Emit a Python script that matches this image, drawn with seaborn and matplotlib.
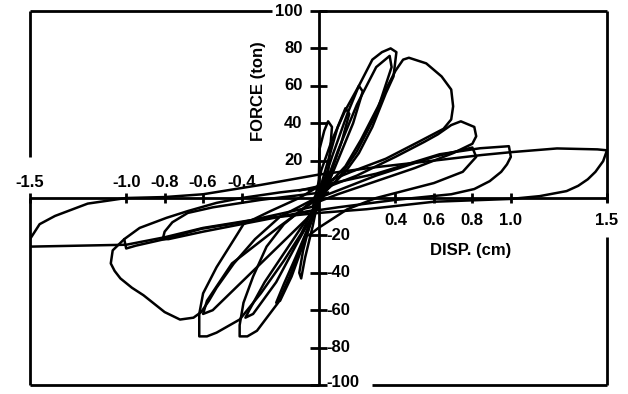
import matplotlib
matplotlib.use("Agg")
import matplotlib.pyplot as plt
import pandas as pd
import seaborn as sns

# ---------------- tick labels ----------------
x_ticks_neg = [-1.5, -1.0, -0.8, -0.6, -0.4]
x_ticks_pos = [0.4, 0.6, 0.8, 1.0, 1.5]
y_ticks_pos = [100, 80, 60, 40, 20]
y_ticks_neg = [-20, -40, -60, -80, -100]

# ---------------- hysteresis loops (disp cm, force ton) ----------------
big15_d = [-1.5, -1.5, -1.45, -1.37, -1.2, -1.0, -0.8, -0.6, -0.3, 0.0, 0.3, 0.6, 0.85, 1.0, 1.24, 1.45,
           1.5, 1.48, 1.44, 1.4, 1.35, 1.29, 1.15, 1.0, 0.6, 0.25, 0.0, -0.3, -0.6, -0.8, -1.0, -1.25, -1.5]
big15_f = [-26, -22, -14, -9.6, -3, 0, 0.5, 2, 7, 12.5, 16.5, 20, 23, 24.5, 26.5, 26,
           25.5, 19.7, 14, 10, 6.5, 3.7, 1, -0.5, -2, -6, -8, -11, -16, -21, -25, -25.5, -26]

e10_d = [-0.1, 0.3, 0.63, 0.84, 0.99, 1.0, 0.98, 0.95, 0.89, 0.81, 0.69, 0.4, 0.1, -0.1]
e10_f = [4, 13, 23.4, 26.6, 27.7, 22, 18, 14, 9, 4.8, 2, -1, -5, -8]

blob_d = [0.05, -0.2, -0.4, -0.53, -0.68, -0.79, -0.93, -1.01, -1.07, -1.08, -1.06, -1.03, -0.97, -0.91,
          -0.8, -0.72, -0.65, -0.61, -0.57, -0.53, -0.44, -0.33, -0.2, -0.05, 0.05]
blob_f = [6, 3, 0, -2.6, -7, -10.6, -16, -22, -28, -35, -39, -43, -48, -52,
          -61, -65, -64, -61, -55, -48, -35, -22, -10, -2, 3]

corner_d = [0.0, -0.09, -0.4, -0.61, -0.8, -0.95, -1.0, -1.01]
corner_f = [-4, -6, -13, -16.5, -22, -25.5, -27, -22]

n08_d = [0.02, -0.3, -0.55, -0.68, -0.76, -0.8, -0.81, -0.78, -0.6, -0.4, -0.2, 0.0]
n08_f = [3, -1, -5, -8, -13, -18, -22, -22, -18, -14, -10, -6]

spike_p_d = [0.0, 0.005, 0.03, 0.05, 0.07, 0.06, 0.05, 0.02, 0.0]
spike_p_f = [0, 26, 36, 41, 38, 25, 14, 3, 0]

p14_d = [-0.02, 0.05, 0.1, 0.14, 0.16, 0.12, 0.06, 0.0]
p14_f = [-5, 20, 38, 48, 45, 30, 12, -2]

p21_d = [-0.02, 0.07, 0.15, 0.21, 0.23, 0.18, 0.1, 0.02]
p21_f = [-6, 22, 45, 60, 57, 40, 20, 0]

p38_d = [-0.03, 0.015, 0.07, 0.14, 0.21, 0.28, 0.33, 0.375, 0.405, 0.39, 0.35, 0.28, 0.21, 0.14, 0.05, 0.0]
p38_f = [-5, 15, 31, 47, 60, 74, 78, 80, 78, 65, 56, 38, 24, 14, 5, 0]

p37_d = [0.0, 0.1, 0.2, 0.3, 0.37, 0.38, 0.3, 0.2, 0.1, 0.0]
p37_f = [-3, 25, 50, 70, 76, 70, 45, 25, 10, 0]

c70_d = [0.0, 0.04, 0.14, 0.22, 0.31, 0.36, 0.4, 0.44, 0.47, 0.56, 0.64, 0.69, 0.70, 0.69, 0.65, 0.52, 0.35, 0.17, 0.04, -0.05]
c70_f = [-2, 6, 17, 31, 49, 60, 68, 74, 75, 72, 65, 58, 49, 42, 37, 30, 21, 14, 8.5, 4]

d80_d = [0.0, 0.2, 0.4, 0.55, 0.62, 0.69, 0.74, 0.81, 0.82, 0.8, 0.7, 0.5, 0.3, 0.1, 0.0]
d80_f = [4, 12, 22, 30, 34, 39, 41, 38, 33, 29, 24, 16, 9, 2, -2]

d82_d = [0.0, 0.3, 0.6, 0.8, 0.82, 0.75, 0.6, 0.3, 0.15, 0.0, -0.05]
d82_f = [0, 12, 22, 27, 22, 14, 8, 0, -6, -16, -20]

spike_n_d = [0.0, -0.03, -0.07, -0.09, -0.1, -0.08, -0.04, 0.0]
spike_n_f = [0, -15, -32, -43, -40, -28, -12, 0]

n22_d = [0.0, -0.05, -0.12, -0.18, -0.22, -0.2, -0.14, -0.08, -0.02, 0.02]
n22_f = [0, -15, -32, -46, -56, -55, -42, -25, -8, 2]

n41_d = [0.02, -0.05, -0.18, -0.27, -0.34, -0.39, -0.41, -0.41, -0.37, -0.32, -0.21, -0.15, -0.09, -0.04, 0.0]
n41_f = [5, -3, -14, -26, -42, -56, -68, -74, -74, -71, -56, -42, -26, -12, -2]

n38_d = [0.0, -0.15, -0.28, -0.36, -0.38, -0.34, -0.22, -0.1, 0.0]
n38_f = [-2, -25, -45, -60, -64, -62, -45, -22, -4]

n62_d = [0.03, -0.1, -0.25, -0.39, -0.42, -0.53, -0.6, -0.62, -0.62, -0.58, -0.53, -0.41, -0.3, -0.18, -0.09, -0.04, 0.0]
n62_f = [8, 0, -7, -14, -19, -37, -51, -62, -74, -74, -72, -65, -51, -33.5, -19, -8.5, 0]

n60_d = [0.0, -0.2, -0.45, -0.58, -0.6, -0.55, -0.4, -0.2, 0.0]
n60_f = [0, -15, -35, -55, -62, -60, -45, -25, -5]

loops = {
    "big15": (big15_d, big15_f), "e10": (e10_d, e10_f), "blob": (blob_d, blob_f),
    "corner": (corner_d, corner_f), "n08": (n08_d, n08_f), "spike_p": (spike_p_d, spike_p_f),
    "p14": (p14_d, p14_f), "p21": (p21_d, p21_f), "p38": (p38_d, p38_f), "p37": (p37_d, p37_f),
    "c70": (c70_d, c70_f), "d80": (d80_d, d80_f), "d82": (d82_d, d82_f),
    "spike_n": (spike_n_d, spike_n_f), "n22": (n22_d, n22_f), "n41": (n41_d, n41_f),
    "n38": (n38_d, n38_f), "n62": (n62_d, n62_f), "n60": (n60_d, n60_f),
}
rows = []
for name, (ds, fs_) in loops.items():
    for i, (d, f) in enumerate(zip(ds, fs_)):
        rows.append({"loop": name, "order": i, "disp": d, "force": f})
df = pd.DataFrame(rows)

# ---------------- drawing ----------------
sns.set_theme(style="white")
plt.rcParams['font.family'] = ['Liberation Sans', 'DejaVu Sans']

fig = plt.figure(figsize=(6.28, 3.94), dpi=100)
ax = fig.add_axes([30 / 628, 9 / 394, 577 / 628, 374 / 394])
ax.set_xlim(-1.5, 1.5)
ax.set_ylim(-100, 100)
ax.axis('off')

sns.lineplot(data=df, x="disp", y="force", units="loop", estimator=None, sort=False,
             color="black", lw=1.8, ax=ax, legend=False)
for l in ax.lines:
    l.set_solid_joinstyle("round")
    l.set_solid_capstyle("round")

K = dict(color="black", lw=2.0, clip_on=False)
# frame (open where labels sit)
ax.vlines(-1.5, 22, 100, **K)
ax.vlines(-1.5, -100, 0, **K)
ax.vlines(1.5, -2, 100, **K)
ax.vlines(1.5, -100, -21, **K)
ax.hlines(100, -1.5, -0.24, **K)
ax.hlines(100, 0.0, 1.5, **K)
ax.hlines(-100, -1.5, 0.0, **K)
ax.hlines(-100, 0.28, 1.5, **K)
# axes
ax.hlines(0, -1.5, 1.5, **K)
ax.vlines(0, -100, 100, **K)

fs = 12
TXT = dict(fontsize=fs, fontweight="bold", color="black")
for t in x_ticks_neg:
    ax.vlines(t, -2.7, 2.7, **K)
    ax.text(t, 8.5, f"{t:.1f}", ha="center", va="center", **TXT)
for t in x_ticks_pos:
    ax.vlines(t, -2.7, 2.7, **K)
    ax.text(t, -12, f"{t:.1f}", ha="center", va="center", **TXT)
for t in y_ticks_pos:
    ax.hlines(t, -0.045, 0.045, **K)
    ax.text(-0.083, t, f"{t}", ha="right", va="center", **TXT)
for t in y_ticks_neg:
    ax.hlines(t, -0.045, 0.045, **K)
    ax.text(0.04, t + (1.5 if t == -100 else 0), f"{t}", ha="left", va="center", **TXT)

ax.text(-0.31, 57, "FORCE (ton)", rotation=90, ha="center", va="center", **TXT)
ax.text(0.79, -28, "DISP. (cm)", ha="center", va="center", **TXT)

fig.savefig("out.png", dpi=100, facecolor="white")
